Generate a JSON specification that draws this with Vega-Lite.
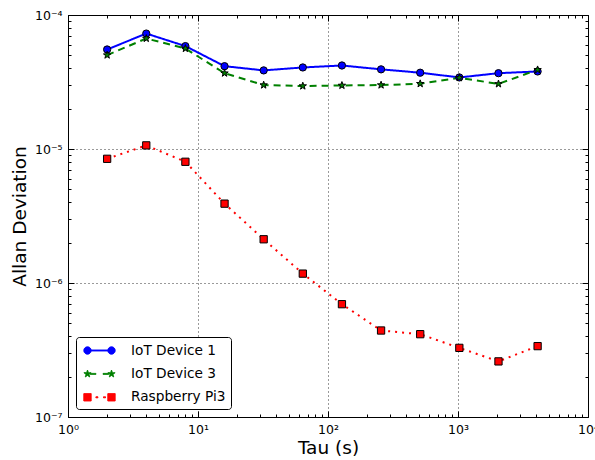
{
  "$schema": "https://vega.github.io/schema/vega-lite/v6.json",
  "autosize": {"type": "none"},
  "padding": {"left": 68, "top": 15, "right": 7, "bottom": 43},
  "width": 520,
  "height": 402,
  "background": "white",
  "config": {
    "view": {"stroke": "black", "strokeWidth": 1},
    "font": "DejaVu Sans",
    "axis": {
      "labelFont": "DejaVu Sans", "labelFontSize": 12.5, "labelColor": "black",
      "titleFont": "DejaVu Sans", "titleFontSize": 18.5, "titleFontWeight": "normal", "titleColor": "black",
      "domain": false, "tickColor": "black", "tickWidth": 1,
      "gridColor": "black", "gridDash": [1, 3], "gridWidth": 0.8,
      "labelFlush": false, "labelOverlap": false
    },
    "legend": {
      "labelFont": "DejaVu Sans", "labelFontSize": 13.7, "labelColor": "black", "labelLimit": 300
    }
  },
  "data": {"values": [
    {"tau": 2, "adev": 5.53e-5, "series": "IoT Device 1"},
    {"tau": 4, "adev": 7.27e-5, "series": "IoT Device 1"},
    {"tau": 8, "adev": 5.86e-5, "series": "IoT Device 1"},
    {"tau": 16, "adev": 4.15e-5, "series": "IoT Device 1"},
    {"tau": 32, "adev": 3.86e-5, "series": "IoT Device 1"},
    {"tau": 64, "adev": 4.06e-5, "series": "IoT Device 1"},
    {"tau": 128, "adev": 4.2e-5, "series": "IoT Device 1"},
    {"tau": 256, "adev": 3.93e-5, "series": "IoT Device 1"},
    {"tau": 512, "adev": 3.71e-5, "series": "IoT Device 1"},
    {"tau": 1024, "adev": 3.42e-5, "series": "IoT Device 1"},
    {"tau": 2048, "adev": 3.68e-5, "series": "IoT Device 1"},
    {"tau": 4096, "adev": 3.79e-5, "series": "IoT Device 1"},
    {"tau": 2, "adev": 5.02e-5, "series": "IoT Device 3"},
    {"tau": 4, "adev": 6.68e-5, "series": "IoT Device 3"},
    {"tau": 8, "adev": 5.62e-5, "series": "IoT Device 3"},
    {"tau": 16, "adev": 3.68e-5, "series": "IoT Device 3"},
    {"tau": 32, "adev": 3.0e-5, "series": "IoT Device 3"},
    {"tau": 64, "adev": 2.95e-5, "series": "IoT Device 3"},
    {"tau": 128, "adev": 2.98e-5, "series": "IoT Device 3"},
    {"tau": 256, "adev": 3.0e-5, "series": "IoT Device 3"},
    {"tau": 512, "adev": 3.07e-5, "series": "IoT Device 3"},
    {"tau": 1024, "adev": 3.4e-5, "series": "IoT Device 3"},
    {"tau": 2048, "adev": 3.06e-5, "series": "IoT Device 3"},
    {"tau": 4096, "adev": 3.9e-5, "series": "IoT Device 3"},
    {"tau": 2, "adev": 8.45e-6, "series": "Raspberry Pi3"},
    {"tau": 4, "adev": 1.064e-5, "series": "Raspberry Pi3"},
    {"tau": 8, "adev": 8.03e-6, "series": "Raspberry Pi3"},
    {"tau": 16, "adev": 3.91e-6, "series": "Raspberry Pi3"},
    {"tau": 32, "adev": 2.12e-6, "series": "Raspberry Pi3"},
    {"tau": 64, "adev": 1.175e-6, "series": "Raspberry Pi3"},
    {"tau": 128, "adev": 6.95e-7, "series": "Raspberry Pi3"},
    {"tau": 256, "adev": 4.42e-7, "series": "Raspberry Pi3"},
    {"tau": 512, "adev": 4.15e-7, "series": "Raspberry Pi3"},
    {"tau": 1024, "adev": 3.28e-7, "series": "Raspberry Pi3"},
    {"tau": 2048, "adev": 2.6e-7, "series": "Raspberry Pi3"},
    {"tau": 4096, "adev": 3.38e-7, "series": "Raspberry Pi3"}
  ]},
  "layer": [
    {
      "mark": {"type": "line", "strokeWidth": 2},
      "encoding": {
        "x": {"field": "tau", "type": "quantitative",
          "scale": {"type": "log", "domain": [1, 10000], "nice": false},
          "axis": {
            "orient": "bottom", "title": "Tau (s)", "titlePadding": 3,
            "values": [1, 10, 100, 1000, 10000],
            "labelExpr": "datum.value == 1 ? '10⁰' : datum.value == 10 ? '10¹' : datum.value == 100 ? '10²' : datum.value == 1000 ? '10³' : '10⁴'",
            "labelPadding": 12, "grid": true, "tickSize": -6
          }
        },
        "y": {"field": "adev", "type": "quantitative",
          "scale": {"type": "log", "domain": [1e-7, 1e-4], "nice": false},
          "axis": {
            "orient": "left", "title": "Allan Deviation", "titlePadding": 5,
            "values": [1e-7, 1e-6, 1e-5, 1e-4],
            "labelExpr": "datum.value == 0.0001 ? '10⁻⁴' : datum.value == 0.00001 ? '10⁻⁵' : datum.value == 0.000001 ? '10⁻⁶' : '10⁻⁷'",
            "labelPadding": 12, "grid": true, "tickSize": -6
          }
        },
        "color": {"field": "series", "type": "nominal",
          "scale": {"domain": ["IoT Device 1", "IoT Device 3", "Raspberry Pi3"], "range": ["#0000ff", "#008000", "#ff0000"]},
          "legend": {
            "title": null, "orient": "bottom-left", "offset": 8, "padding": 5,
            "strokeColor": "black", "fillColor": "white", "cornerRadius": 3,
            "symbolSize": 256, "symbolStrokeWidth": 1, "symbolOffset": 10, "labelOffset": 23, "rowPadding": 7.4,
            "encode": {"symbols": {"update": {"strokeWidth": {"value": 1}, "strokeDash": {"value": [1, 0]}, "opacity": {"value": 1}, "size": {"value": 256}}}}
          }},
        "strokeDash": {"field": "series", "type": "nominal",
          "scale": {"domain": ["IoT Device 3", "IoT Device 1", "Raspberry Pi3"], "range": [[7, 5], [1, 0], [2, 5]]},
          "legend": null}
      }
    },
    {
      "mark": {"type": "point", "filled": true, "size": 0, "opacity": 1},
      "encoding": {
        "x": {"field": "tau", "type": "quantitative", "axis": null},
        "y": {"field": "adev", "type": "quantitative", "axis": null},
        "fill": {"field": "series", "type": "nominal",
          "scale": {"domain": ["IoT Device 1", "IoT Device 3", "Raspberry Pi3"], "range": ["#0000ff", "#008000", "#ff0000"]},
          "legend": {
            "title": null, "orient": "bottom-left", "offset": 8, "padding": 5,
            "strokeColor": "black", "fillColor": "white", "cornerRadius": 3,
            "symbolSize": 256, "symbolStrokeWidth": 1, "symbolOffset": 10, "labelOffset": 23, "rowPadding": 7.4,
            "encode": {"symbols": {"update": {"strokeWidth": {"value": 1}, "strokeDash": {"value": [1, 0]}, "opacity": {"value": 1}, "size": {"value": 256}}}}
          }},
        "shape": {"field": "series", "type": "nominal",
          "scale": {"domain": ["IoT Device 1", "IoT Device 3", "Raspberry Pi3"], "range": [
            "M-1.04,0A0.46,0.46 0 1,1 -1.96,0A0.46,0.46 0 1,1 -1.04,0ZM1.96,0A0.46,0.46 0 1,1 1.04,0A0.46,0.46 0 1,1 1.96,0ZM-1.04,-0.0625L1.04,-0.0625L1.04,0.0625L-1.04,0.0625Z",
            "M-1.5,-0.475L-1.388,-0.154L-1.048,-0.147L-1.319,0.059L-1.221,0.384L-1.5,0.19L-1.779,0.384L-1.681,0.059L-1.952,-0.147L-1.612,-0.154ZM1.5,-0.475L1.612,-0.154L1.952,-0.147L1.681,0.059L1.779,0.384L1.5,0.19L1.221,0.384L1.319,0.059L1.048,-0.147L1.388,-0.154ZM-1.15,-0.0625L-0.45,-0.0625L-0.45,0.0625L-1.15,0.0625ZM0.45,-0.0625L1.15,-0.0625L1.15,0.0625L0.45,0.0625Z",
            "M-1.96,-0.46L-1.04,-0.46L-1.04,0.46L-1.96,0.46ZM1.04,-0.46L1.96,-0.46L1.96,0.46L1.04,0.46ZM-0.45,-0.0625L-0.2,-0.0625L-0.2,0.0625L-0.45,0.0625ZM0.5,-0.0625L0.75,-0.0625L0.75,0.0625L0.5,0.0625Z"
          ]},
          "legend": {
            "title": null, "orient": "bottom-left", "offset": 8, "padding": 5,
            "strokeColor": "black", "fillColor": "white", "cornerRadius": 3,
            "symbolSize": 256, "symbolStrokeWidth": 1, "symbolOffset": 10, "labelOffset": 23, "rowPadding": 7.4,
            "encode": {"symbols": {"update": {"strokeWidth": {"value": 1}, "strokeDash": {"value": [1, 0]}, "opacity": {"value": 1}, "size": {"value": 256}}}}
          }}
      }
    },
    {
      "transform": [{"filter": "datum.series == 'IoT Device 1'"}],
      "mark": {"type": "point", "shape": "circle", "filled": true, "fill": "#0000ff", "stroke": "black", "strokeWidth": 1, "size": 53, "opacity": 1},
      "encoding": {
        "x": {"field": "tau", "type": "quantitative",
          "axis": {"orient": "bottom", "title": null, "labels": false, "grid": false, "tickSize": -3,
            "values": [2,3,4,5,6,7,8,9,20,30,40,50,60,70,80,90,200,300,400,500,600,700,800,900,2000,3000,4000,5000,6000,7000,8000,9000]}},
        "y": {"field": "adev", "type": "quantitative",
          "axis": {"orient": "left", "title": null, "labels": false, "grid": false, "tickSize": -3,
            "values": [2e-7,3e-7,4e-7,5e-7,6e-7,7e-7,8e-7,9e-7,2e-6,3e-6,4e-6,5e-6,6e-6,7e-6,8e-6,9e-6,2e-5,3e-5,4e-5,5e-5,6e-5,7e-5,8e-5,9e-5]}}
      }
    },
    {
      "transform": [{"filter": "datum.series == 'IoT Device 3'"}],
      "mark": {"type": "point", "shape": "M0,-1L0.235,-0.324L0.951,-0.309L0.38,0.124L0.588,0.809L0,0.4L-0.588,0.809L-0.38,0.124L-0.951,-0.309L-0.235,-0.324Z", "filled": true, "fill": "#008000", "stroke": "black", "strokeWidth": 1, "size": 60, "opacity": 1},
      "encoding": {
        "x": {"field": "tau", "type": "quantitative",
          "axis": {"orient": "top", "title": null, "labels": false, "grid": false, "tickSize": -6,
            "values": [1, 10, 100, 1000, 10000]}},
        "y": {"field": "adev", "type": "quantitative",
          "axis": {"orient": "right", "title": null, "labels": false, "grid": false, "tickSize": -6,
            "values": [1e-7, 1e-6, 1e-5, 1e-4]}}
      }
    },
    {
      "transform": [{"filter": "datum.series == 'Raspberry Pi3'"}],
      "mark": {"type": "point", "shape": "square", "filled": true, "fill": "#ff0000", "stroke": "black", "strokeWidth": 1, "size": 53, "opacity": 1},
      "encoding": {
        "x": {"field": "tau", "type": "quantitative",
          "axis": {"orient": "top", "title": null, "labels": false, "grid": false, "tickSize": -3,
            "values": [2,3,4,5,6,7,8,9,20,30,40,50,60,70,80,90,200,300,400,500,600,700,800,900,2000,3000,4000,5000,6000,7000,8000,9000]}},
        "y": {"field": "adev", "type": "quantitative",
          "axis": {"orient": "right", "title": null, "labels": false, "grid": false, "tickSize": -3,
            "values": [2e-7,3e-7,4e-7,5e-7,6e-7,7e-7,8e-7,9e-7,2e-6,3e-6,4e-6,5e-6,6e-6,7e-6,8e-6,9e-6,2e-5,3e-5,4e-5,5e-5,6e-5,7e-5,8e-5,9e-5]}}
      }
    }
  ]
}
